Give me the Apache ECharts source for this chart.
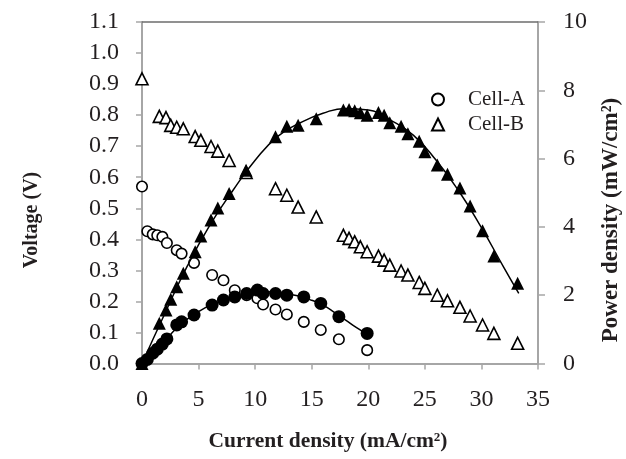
<!DOCTYPE html>
<html>
<head>
<meta charset="utf-8">
<script src="https://cdn.jsdelivr.net/npm/echarts@6/dist/echarts.min.js"></script>
<style>
html,body{margin:0;padding:0;background:#fff;}
#chart{width:626px;height:459px;}
</style>
</head>
<body>
<div id="chart"></div>
<script>
// ---- Data ----
var xTicks = [0, 5, 10, 15, 20, 25, 30, 35];
var voltageTicks = [0.0, 0.1, 0.2, 0.3, 0.4, 0.5, 0.6, 0.7, 0.8, 0.9, 1.0, 1.1];
var powerTicks = [0, 2, 4, 6, 8, 10];

// Cell-A
var cellA_current = [0, 0.47, 0.95, 1.35, 1.8, 2.2, 3.07, 3.5, 4.6, 6.2, 7.2, 8.2, 9.25, 10.2, 10.7, 11.8, 12.8, 14.3, 15.8, 17.4, 19.9];
var cellA_voltage = [0.57, 0.426, 0.416, 0.413, 0.408, 0.388, 0.365, 0.354, 0.324, 0.285, 0.268, 0.236, 0.22, 0.21, 0.19, 0.174, 0.158, 0.134, 0.108, 0.078, 0.043];
var cellA_power = [0, 0.12, 0.3, 0.42, 0.57, 0.72, 1.13, 1.22, 1.42, 1.71, 1.86, 1.95, 2.05, 2.15, 2.05, 2.05, 2.0, 1.95, 1.76, 1.37, 0.88];
// Cell-A power curve
var cellA_curveX = [0, 1, 2, 3, 4, 5, 6, 7, 8, 9, 10, 11, 12, 13, 14, 15, 16, 17, 18, 19, 19.9];
var cellA_curveP = [0, 0.3, 0.65, 1.02, 1.3, 1.52, 1.7, 1.83, 1.94, 2.03, 2.09, 2.1, 2.08, 2.03, 1.96, 1.85, 1.71, 1.5, 1.27, 1.04, 0.86];

// Cell-B
var cellB_current = [0, 1.53, 2.12, 2.54, 3.07, 3.65, 4.7, 5.2, 6.1, 6.7, 7.7, 9.2, 11.8, 12.8, 13.8, 15.4, 17.8, 18.3, 18.8, 19.3, 19.9, 20.9, 21.4, 21.9, 22.9, 23.5, 24.5, 25.0, 26.1, 27.0, 28.1, 29.0, 30.1, 31.1, 33.2];
var cellB_voltage = [0.917, 0.796, 0.792, 0.767, 0.761, 0.756, 0.731, 0.719, 0.699, 0.684, 0.654, 0.615, 0.563, 0.542, 0.504, 0.472, 0.413, 0.403, 0.392, 0.376, 0.36, 0.346, 0.333, 0.317, 0.298, 0.285, 0.261, 0.242, 0.22, 0.202, 0.181, 0.153, 0.124, 0.097, 0.065];
var cellB_power = [0, 1.18, 1.57, 1.88, 2.25, 2.64, 3.27, 3.73, 4.2, 4.55, 4.98, 5.66, 6.64, 6.95, 6.98, 7.17, 7.42, 7.44, 7.40, 7.34, 7.27, 7.35, 7.27, 7.05, 6.95, 6.73, 6.51, 6.2, 5.81, 5.54, 5.14, 4.61, 3.89, 3.15, 2.35];
// Cell-B power curve
var cellB_curveX = [0, 2, 4, 6, 8, 10, 12, 14, 16, 18, 20, 22, 24, 26, 28, 30, 32, 33.3];
var cellB_curveP = [0, 1.45, 2.85, 4.05, 5.05, 5.95, 6.65, 7.05, 7.33, 7.47, 7.42, 7.12, 6.68, 5.95, 5.05, 3.98, 2.8, 2.05];

var seriesNames = ['Cell-A', 'Cell-B'];
var titles = { x: 'Current density (mA/cm\u00B2)', yLeft: 'Voltage (V)', yRight: 'Power density (mW/cm\u00B2)' };

function zip(a, b) { return a.map(function (v, i) { return [v, b[i]]; }); }

var FONT = '"Liberation Serif", "Times New Roman", serif';
var axisGray = '#a6a6a6';
var textColor = '#231f20';

var chart = echarts.init(document.getElementById('chart'), null, { renderer: 'canvas' });

var labelStyle = { fontFamily: FONT, fontSize: 24, color: textColor };

var option = {
  backgroundColor: '#ffffff',
  animation: false,
  grid: { left: 142, right: 88, top: 22, bottom: 95.5, containLabel: false },
  legend: {
    orient: 'vertical',
    left: 426, top: 84,
    itemWidth: 12, itemHeight: 12, itemGap: 4,
    data: seriesNames,
    textStyle: { fontFamily: FONT, fontSize: 21, color: textColor, lineHeight: 21, padding: [0, 0, 0, 19] }
  },
  xAxis: [{
    type: 'value', position: 'bottom',
    min: xTicks[0], max: xTicks[xTicks.length - 1], interval: xTicks[1] - xTicks[0],
    axisLine: { show: true, onZero: false, lineStyle: { color: axisGray, width: 2 } },
    axisTick: { show: true, length: 6, lineStyle: { color: axisGray, width: 1.5 } },
    splitLine: { show: false },
    axisLabel: Object.assign({ margin: 24 }, labelStyle)
  }, {
    type: 'value', position: 'top',
    min: xTicks[0], max: xTicks[xTicks.length - 1],
    axisLine: { show: true, onZero: false, lineStyle: { color: '#6e6e6e', width: 1.5 } },
    axisTick: { show: false }, axisLabel: { show: false }, splitLine: { show: false }
  }],
  yAxis: [{
    type: 'value', position: 'left',
    min: voltageTicks[0], max: voltageTicks[voltageTicks.length - 1], interval: 0.1,
    axisLine: { show: true, onZero: false, lineStyle: { color: axisGray, width: 2 } },
    axisTick: { show: true, length: 6, lineStyle: { color: axisGray, width: 1.5 } },
    splitLine: { show: false },
    axisLabel: Object.assign({ margin: 23, formatter: function (v) { return (Math.round(v * 10) / 10).toFixed(1); } }, labelStyle)
  }, {
    type: 'value', position: 'right',
    min: powerTicks[0], max: powerTicks[powerTicks.length - 1], interval: powerTicks[1] - powerTicks[0],
    axisLine: { show: true, onZero: false, lineStyle: { color: axisGray, width: 2 } },
    axisTick: { show: true, length: 7, lineStyle: { color: axisGray, width: 1.5 } },
    splitLine: { show: false },
    axisLabel: Object.assign({ margin: 25 }, labelStyle)
  }],
  graphic: [
    { type: 'text', x: 328, y: 441, style: { text: titles.x, font: 'bold 21.5px ' + FONT, fill: textColor, align: 'center', verticalAlign: 'middle' } },
    { type: 'text', x: 32, y: 220, rotation: Math.PI / 2, style: { text: titles.yLeft, font: 'bold 20px ' + FONT, fill: textColor, align: 'center', verticalAlign: 'middle' } },
    { type: 'text', x: 611, y: 220, rotation: Math.PI / 2, style: { text: titles.yRight, font: 'bold 23px ' + FONT, fill: textColor, align: 'center', verticalAlign: 'middle' } }
  ],
  series: [
    {
      name: seriesNames[0], type: 'scatter', xAxisIndex: 0, yAxisIndex: 0,
      symbol: 'circle', symbolSize: 10.5, z: 2,
      itemStyle: { color: '#ffffff', borderColor: '#000000', borderWidth: 1.6, opacity: 1 },
      data: zip(cellA_current, cellA_voltage)
    },
    {
      name: seriesNames[1], type: 'scatter', xAxisIndex: 0, yAxisIndex: 0,
      symbol: 'triangle', symbolSize: 12, z: 2,
      itemStyle: { color: '#ffffff', borderColor: '#000000', borderWidth: 1.6, opacity: 1 },
      data: zip(cellB_current, cellB_voltage)
    },
    {
      name: 'Cell-A power curve', type: 'line', xAxisIndex: 0, yAxisIndex: 1,
      smooth: true, showSymbol: false, z: 3,
      lineStyle: { color: '#000', width: 1.5 },
      data: zip(cellA_curveX, cellA_curveP)
    },
    {
      name: 'Cell-B power curve', type: 'line', xAxisIndex: 0, yAxisIndex: 1,
      smooth: true, showSymbol: false, z: 3,
      lineStyle: { color: '#000', width: 1.5 },
      data: zip(cellB_curveX, cellB_curveP)
    },
    {
      name: 'Cell-A power', type: 'scatter', xAxisIndex: 0, yAxisIndex: 1,
      symbol: 'circle', symbolSize: 13, z: 4,
      itemStyle: { color: '#000', opacity: 1 },
      data: zip(cellA_current, cellA_power)
    },
    {
      name: 'Cell-B power', type: 'scatter', xAxisIndex: 0, yAxisIndex: 1,
      symbol: 'triangle', symbolSize: 13, z: 4,
      itemStyle: { color: '#000', opacity: 1 },
      data: zip(cellB_current, cellB_power)
    }
  ]
};
chart.setOption(option);
</script>
</body>
</html>
